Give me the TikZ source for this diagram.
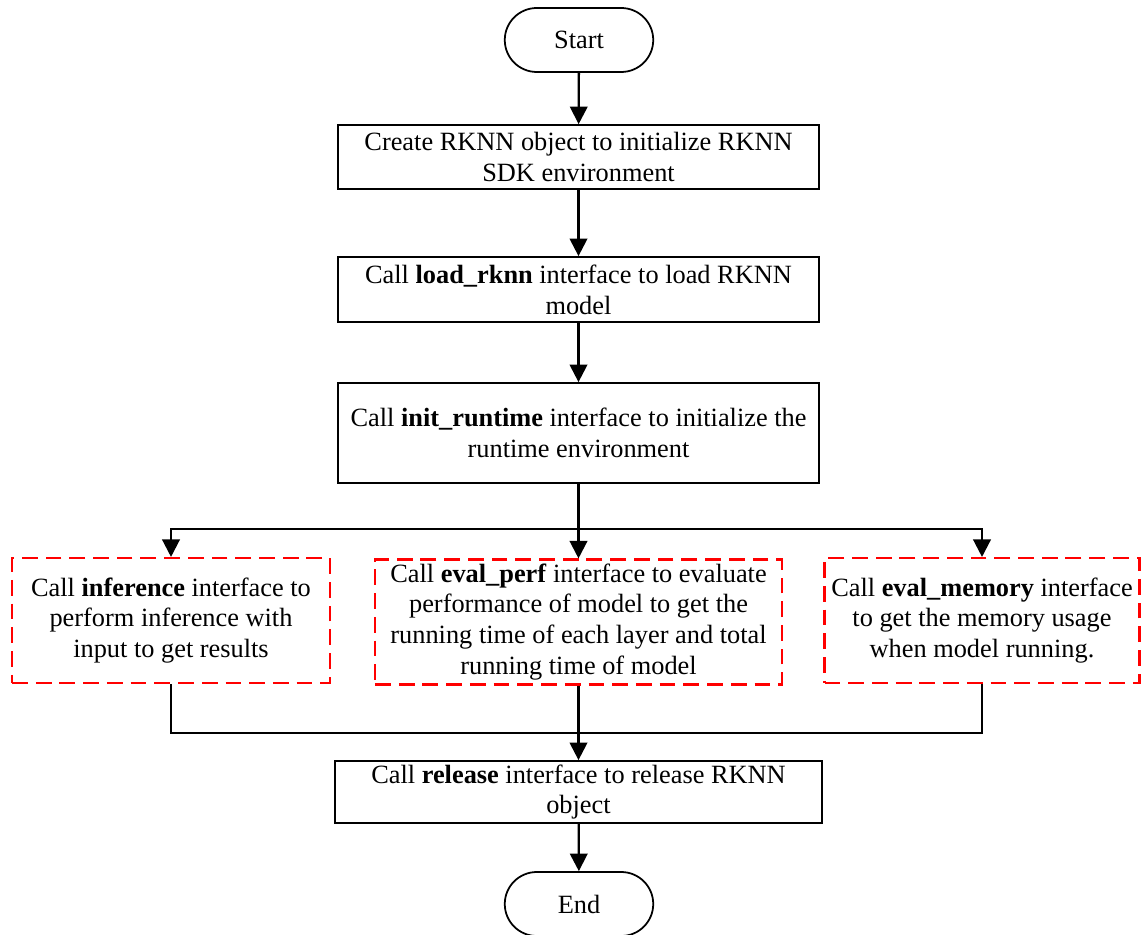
\documentclass[tikz,border=0pt]{standalone}
\usepackage{fontspec}
\setmainfont{Liberation Serif}
\usetikzlibrary{arrows.meta,shapes.misc}

\begin{document}
\begin{tikzpicture}[x=0.02cm,y=-0.02cm,
    every node/.style={font=\fontsize{15}{17.6}\selectfont, align=center, inner sep=1pt},
    terminal/.style={draw, line width=1pt, rounded rectangle, minimum width=3.04cm, minimum height=1.28cm},
    stepbox/.style={draw, line width=1pt, minimum width=9.62cm},
    callbox/.style={draw=red, line width=1.2pt, dash pattern=on 9pt off 4.5pt, minimum height=2.5cm},
    flow/.style={line width=1.3pt, -{Triangle[width=10pt,length=10pt]}},
    link/.style={line width=1.2pt}]
  \useasboundingbox (0,0) rectangle (1142,935);

  % main column
  \node[terminal] (start) at (579,40) {Start};
  \node[stepbox, minimum height=1.28cm] (create) at (578.5,157)
    {Create RKNN object to initialize RKNN\\SDK environment};
  \node[stepbox, minimum height=1.3cm] (load) at (578.5,289.5)
    {Call \textbf{load\_rknn} interface to load RKNN\\model};
  \node[stepbox, minimum height=2cm] (init) at (578.5,433)
    {Call \textbf{init\_runtime} interface to initialize the\\runtime environment};

  % three calls
  \node[callbox, minimum width=6.36cm] (infer) at (171,620.5)
    {Call \textbf{inference} interface to\\perform inference with\\input to get results};
  \node[callbox, minimum width=8.14cm] (perf) at (578.5,622)
    {Call \textbf{eval\_perf} interface to evaluate\\performance of model to get the\\running time of each layer and total\\running time of model};
  \node[callbox, minimum width=6.3cm] (mem) at (982,620.5)
    {Call \textbf{eval\_memory} interface\\to get the memory usage\\when model running.};

  \node[stepbox, minimum width=9.74cm, minimum height=1.24cm] (release) at (578.5,792)
    {Call \textbf{release} interface to release RKNN\\object};
  \node[terminal] (end) at (579,904) {End};

  \coordinate (split) at (578.5,529);
  \coordinate (join) at (578.5,733);

  % connectors
  \draw[flow] (start) -- (create);
  \draw[flow] (create) -- (load);
  \draw[flow] (load) -- (init);
  \draw[link] (init) -- (split);
  \draw[flow] (split) -| (infer);
  \draw[flow] (split) -- (perf);
  \draw[flow] (split) -| (mem);
  \draw[link] (infer) |- (join);
  \draw[link] (mem) |- (join);
  \draw[link] (perf) -- (join);
  \draw[flow] (join) -- (release);
  \draw[flow] (release) -- (end);
\end{tikzpicture}
\end{document}
